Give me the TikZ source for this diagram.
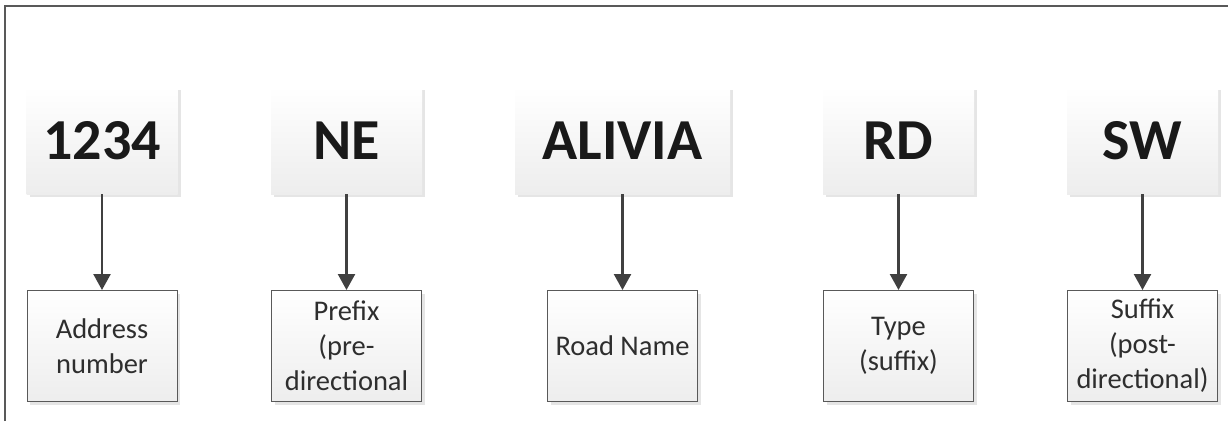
\documentclass[tikz,border=0pt]{standalone}
\usepackage{fontspec}
\setmainfont{Carlito}
\usetikzlibrary{arrows.meta,shadows}

\tikzset{
  word/.style={minimum width=151pt, minimum height=107pt, inner sep=0pt,
    top color=white, bottom color=black!7,
    drop shadow={shadow xshift=3pt, shadow yshift=-3pt, fill=black!10, opacity=1},
    text=black!90, font=\bfseries\fontsize{58}{60}\selectfont},
  part/.style={draw=black!65, line width=1pt, minimum width=150pt, minimum height=111pt,
    inner sep=0pt, align=center, top color=white, bottom color=black!7,
    drop shadow={shadow xshift=3pt, shadow yshift=-3pt, fill=black!10, opacity=1},
    text=black!82, font=\fontsize{28.5}{35}\selectfont},
  link/.style={draw=black!75, line width=2.4pt, -{Triangle[length=16pt,width=17pt]}}
}

\begin{document}
\begin{tikzpicture}[x=1pt, y=-1pt]

\useasboundingbox (0,0) rectangle (1228,421);

% frame
\draw[black!65, line width=1.5pt] (5,421) -- (5,6) -- (1228,6);

\foreach \i/\x/\w/\txt/\sub in {
1/102/151/1234/{Address\\number},
2/346.5/151/NE/{Prefix\\(pre-\\directional},
3/622.5/215/ALIVIA/{Road Name},
4/898.5/151/RD/{Type\\(suffix)},
5/1142.5/151/SW/{Suffix\\(post-\\directional)}%
}
{
    \node[word, minimum width=\w pt] (t\i) at (\x,140.5) {\txt};
    \node[part] (b\i) at (\x,346) {\sub};
    \draw[link] (t\i.south) -- (b\i.north);
}

\end{tikzpicture}
\end{document}
